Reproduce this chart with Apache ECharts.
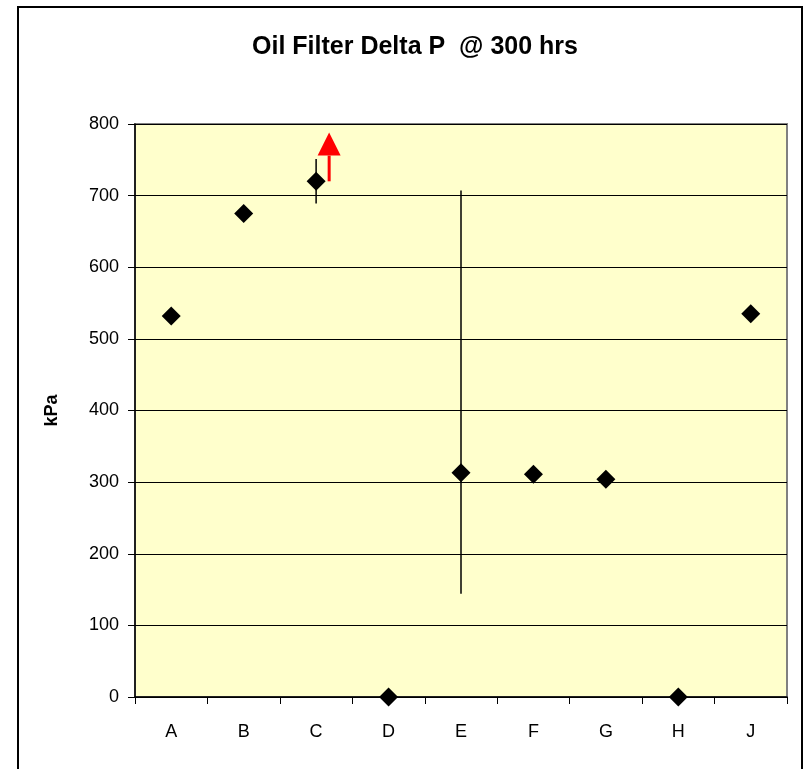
<!DOCTYPE html>
<html>
<head>
<meta charset="utf-8">
<script src="https://cdn.jsdelivr.net/npm/echarts@6/dist/echarts.min.js"></script>
<style>
html,body{margin:0;padding:0;background:#fff;}
#chart{width:805px;height:769px;}
</style>
</head>
<body>
<div id="chart"></div>
<script>
// ---- data ----
const categories = ['A','B','C','D','E','F','G','H','J'];
const values = [532, 675, 720, 0, 313, 311, 304, 0, 535];
// error bars: [categoryIndex, low, high]
const errorBars = [[2, 689, 751], [4, 144, 707]];
// arrow (indicates value beyond): [categoryIndex, from, to]
const arrows = [[2, 720, 788]];
const yTicks = [0, 100, 200, 300, 400, 500, 600, 700, 800];

const chart = echarts.init(document.getElementById('chart'));
const FONT = 'Liberation Sans, Arial, sans-serif';

chart.setOption({
  animation: false,
  backgroundColor: '#ffffff',
  title: {
    text: 'Oil Filter Delta P  @ 300 hrs',
    left: 410,
    top: 30,
    textAlign: 'center',
    textStyle: {fontFamily: FONT, fontWeight: 'bold', fontSize: 25, color: '#000'}
  },
  graphic: [{
    type: 'rect',
    shape: {x: 18, y: 7, width: 784, height: 800},
    style: {fill: 'none', stroke: '#000', lineWidth: 2},
    silent: true,
    z: 100
  }],
  grid: {
    left: 135, right: 18, top: 124, bottom: 72,
    show: true,
    backgroundColor: '#FFFFCC',
    borderColor: '#808080',
    borderWidth: 2
  },
  xAxis: {
    type: 'category',
    data: categories,
    boundaryGap: true,
    axisLine: {lineStyle: {color: '#000', width: 1.5}},
    axisTick: {show: true, inside: false, length: 7, alignWithLabel: false, lineStyle: {color: '#000'}},
    axisLabel: {fontFamily: FONT, fontSize: 18, color: '#000', margin: 26},
    splitLine: {show: false}
  },
  yAxis: {
    type: 'value',
    min: 0, max: 800, interval: 100,
    name: 'kPa',
    nameLocation: 'middle',
    nameGap: 74,
    nameRotate: 90,
    nameTextStyle: {fontFamily: FONT, fontWeight: 'bold', fontSize: 18, color: '#000'},
    axisLine: {show: true, lineStyle: {color: '#000', width: 1.5}},
    axisTick: {show: true, inside: false, length: 7, lineStyle: {color: '#000'}},
    axisLabel: {fontFamily: FONT, fontSize: 18, color: '#000', margin: 16,
      formatter: v => yTicks.includes(v) ? String(v) : ''},
    splitLine: {show: true, lineStyle: {color: '#000', width: 1}}
  },
  series: [
    {
      type: 'custom',
      name: 'error',
      data: errorBars,
      z: 3,
      renderItem: function (params, api) {
        const x = api.value(0);
        const lo = api.coord([x, api.value(1)]);
        const hi = api.coord([x, api.value(2)]);
        return {
          type: 'line',
          shape: {x1: lo[0], y1: lo[1], x2: hi[0], y2: hi[1]},
          style: {stroke: '#000', lineWidth: 1.5}
        };
      }
    },
    {
      type: 'scatter',
      data: values,
      symbol: 'diamond',
      symbolSize: 19,
      itemStyle: {color: '#000', opacity: 1},
      z: 4
    },
    {
      type: 'custom',
      name: 'arrow',
      data: arrows,
      z: 5,
      renderItem: function (params, api) {
        const x = api.value(0);
        const from = api.coord([x, api.value(1)]);
        const to = api.coord([x, api.value(2)]);
        const bw = api.size([1, 0])[0];
        const px = from[0] + bw * 0.18;
        const headH = 23, headW = 23;
        return {
          type: 'group',
          children: [
            {type: 'line', shape: {x1: px, y1: from[1], x2: px, y2: to[1] + headH}, style: {stroke: '#ff0000', lineWidth: 3}},
            {type: 'polygon', shape: {points: [[px, to[1]], [px - headW / 2, to[1] + headH], [px + headW / 2, to[1] + headH]]}, style: {fill: '#ff0000'}}
          ]
        };
      }
    }
  ]
});
</script>
</body>
</html>
